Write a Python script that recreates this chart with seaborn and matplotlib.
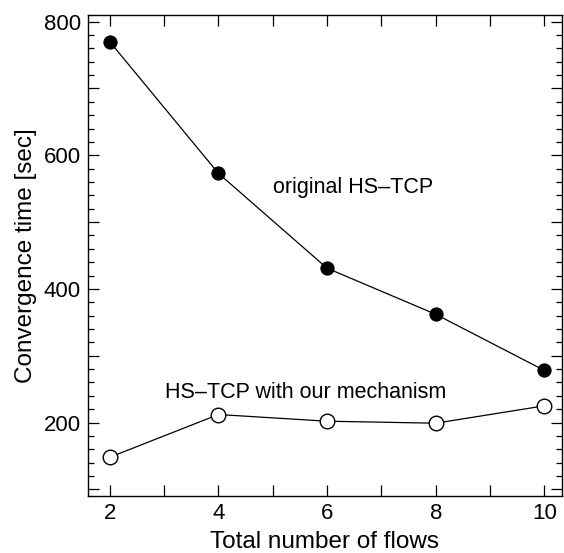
import pandas as pd
import matplotlib.pyplot as plt
import seaborn as sns
from matplotlib.ticker import MultipleLocator, FuncFormatter

flows = [2, 4, 6, 8, 10]
original = [770, 573, 431, 362, 278]
proposed = [148, 212, 202, 199, 225]

df = pd.DataFrame({'flows': flows, 'original': original, 'proposed': proposed})

sns.set_style('ticks')
plt.rcParams['font.family'] = ['Liberation Sans', 'DejaVu Sans']
plt.rcParams['text.color'] = 'black'
plt.rcParams['axes.labelcolor'] = 'black'
plt.rcParams['xtick.color'] = 'black'
plt.rcParams['ytick.color'] = 'black'
plt.rcParams['axes.edgecolor'] = 'black'

fig = plt.figure(figsize=(5.64, 5.53), dpi=100)
ax = fig.add_axes([0.156, 0.103, 0.84, 0.870])

sns.lineplot(data=df, x='flows', y='original', ax=ax, color='black', lw=0.9,
             marker='o', markersize=9.5, markerfacecolor='black', markeredgecolor='black')
sns.lineplot(data=df, x='flows', y='proposed', ax=ax, color='black', lw=0.9,
             marker='o', markersize=10.5, markerfacecolor='white', markeredgecolor='black',
             markeredgewidth=1.0)

ax.set_xlim(1.6, 10.32)
ax.set_ylim(90, 810)

ax.xaxis.set_major_locator(MultipleLocator(1))
ax.xaxis.set_major_formatter(FuncFormatter(lambda v, p: f'{int(v)}' if int(v) % 2 == 0 else ''))
ax.yaxis.set_major_locator(MultipleLocator(100))
ax.yaxis.set_minor_locator(MultipleLocator(20))
ax.yaxis.set_major_formatter(FuncFormatter(lambda v, p: f'{int(v)}' if int(v) % 200 == 0 else ''))

ax.tick_params(which='both', direction='in', top=True, right=True, labelsize=16, width=0.9)
ax.tick_params(which='major', length=8, pad=5)
ax.tick_params(which='minor', length=4)
for s in ax.spines.values():
    s.set_linewidth(1.0)

ax.set_xlabel('Total number of flows', fontsize=17.5, labelpad=5)
ax.set_ylabel('Convergence time [sec]', fontsize=17.5, labelpad=5)

ax.text(6.48, 551, 'original HS\u2013TCP', fontsize=15.5, ha='center', va='center')
ax.text(5.6, 245, 'HS\u2013TCP with our mechanism', fontsize=15.5, ha='center', va='center')

plt.savefig('out.png', dpi=100)
